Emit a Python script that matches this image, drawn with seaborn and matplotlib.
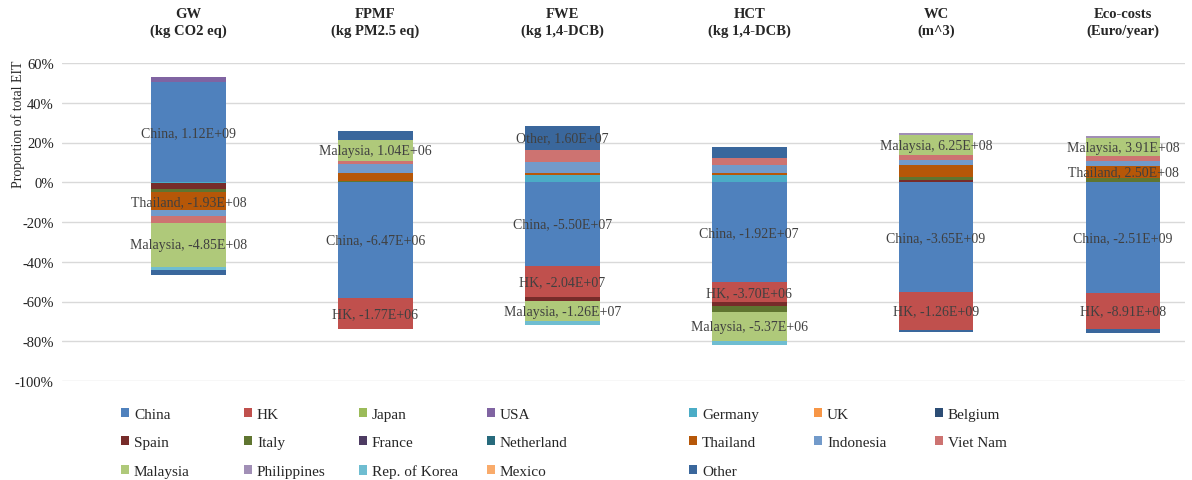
import numpy as np
import pandas as pd
import matplotlib
matplotlib.use("Agg")
import matplotlib.pyplot as plt
import seaborn as sns
from matplotlib.patches import Patch
from matplotlib.ticker import PercentFormatter

sns.set_style("white")
plt.rcParams['font.family'] = ['Liberation Serif', 'DejaVu Serif']
plt.rcParams['axes.unicode_minus'] = False

# impact categories (x axis, shown on top)
categories = ["GW\n(kg CO2 eq)", "FPMF\n(kg PM2.5 eq)", "FWE\n(kg 1,4-DCB)",
              "HCT\n(kg 1,4-DCB)", "WC\n(m^3)", "Eco-costs\n(Euro/year)"]

countries = ["China", "HK", "Japan", "USA", "Germany", "UK", "Belgium",
             "Spain", "Italy", "France", "Netherland", "Thailand", "Indonesia", "Viet Nam",
             "Malaysia", "Philippines", "Rep. of Korea", "Mexico", "Other"]

# proportion of total EIT (%) per country, one value per category
china = [50.2, -58.1, -42.2, -50.4, -55.3, -55.6]
hk = [0, -15.6, -15.5, -10.0, -18.8, -18.2]
japan = [0, 0, 0, 0, 0, 0]
usa = [3.0, 0, 0, 0, 0, 0]
germany = [-0.5, 0, 3.5, 3.7, 0, 0]
uk = [0, 0, 0, 0, 0, 0]
belgium = [0, 0, 0, 0, 0, 0]
spain = [-2.8, 0, -2.2, -1.7, 1.2, 0]
italy = [-1.7, 0.5, 0, -3.4, 1.2, 2.3]
france = [0, 0, 0, 0, 0, 0]
netherland = [0, 0, 0, 0, 0, 0]
thailand = [-9.2, 4.3, 1.0, 1.2, 6.2, 5.9]
indonesia = [-3.0, 4.2, 5.5, 3.7, 2.5, 2.5]
viet_nam = [-3.2, 1.7, 6.0, 3.4, 2.5, 2.5]
malaysia = [-22.3, 10.4, -10.0, -14.3, 10.0, 9.0]
philippines = [0, 0, 0, 0, 1.3, 1.3]
rep_korea = [-1.7, 0, -1.7, -2.2, 0, 0]
mexico = [0, 0, 0, 0, 0, 0]
other = [-2.2, 4.7, 12.5, 5.5, -1.0, -2.0]

colors = ["#4F81BD", "#C0504D", "#9BBB59", "#8064A2", "#4BACC6", "#F79646", "#2C4D75",
          "#772C2A", "#5F7530", "#4D3B62", "#276A7C", "#B65708", "#729ACA", "#CD7371",
          "#AFC97A", "#A18FB6", "#6FBDD1", "#F9AB6B", "#3A679C"]

# data labels: country, category index, text
label_country = ["China", "Thailand", "Malaysia",
                 "Malaysia", "China", "HK",
                 "Other", "China", "HK", "Malaysia",
                 "China", "HK", "Malaysia",
                 "Malaysia", "China", "HK",
                 "Malaysia", "Thailand", "China", "HK"]
label_cat = [0, 0, 0, 1, 1, 1, 2, 2, 2, 2, 3, 3, 3, 4, 4, 4, 5, 5, 5, 5]
label_text = ["China, 1.12E+09", "Thailand, -1.93E+08", "Malaysia, -4.85E+08",
              "Malaysia, 1.04E+06", "China, -6.47E+06", "HK, -1.77E+06",
              "Other, 1.60E+07", "China, -5.50E+07", "HK, -2.04E+07", "Malaysia, -1.26E+07",
              "China, -1.92E+07", "HK, -3.70E+06", "Malaysia, -5.37E+06",
              "Malaysia, 6.25E+08", "China, -3.65E+09", "HK, -1.26E+09",
              "Malaysia, 3.91E+08", "Thailand, 2.50E+08", "China, -2.51E+09", "HK, -8.91E+08"]

series = [china, hk, japan, usa, germany, uk, belgium, spain, italy, france, netherland,
          thailand, indonesia, viet_nam, malaysia, philippines, rep_korea, mexico, other]
vals = np.array(series, dtype=float)

# stack positives upward and negatives downward, Excel style
pos = np.clip(vals, 0, None).cumsum(axis=0)
neg = np.clip(vals, None, 0).cumsum(axis=0)
tops = np.where(vals > 0, pos, np.where(vals < 0, neg, 0.0))

fig = plt.figure(figsize=(11.92, 4.81), dpi=100)
ax = fig.add_axes([62 / 1192, 1 - 382 / 481, 1123 / 1192, 318 / 481])

for k in range(len(countries) - 1, -1, -1):
    df = pd.DataFrame({"cat": categories, "top": tops[k]})
    sns.barplot(data=df, x="cat", y="top", order=categories, color=colors[k],
                saturation=1, width=0.4, linewidth=0, errorbar=None, ax=ax)

for name, c, txt in zip(label_country, label_cat, label_text):
    k = countries.index(name)
    mid = tops[k, c] - vals[k, c] / 2
    ax.text(c, mid, txt, ha='center', va='center', fontsize=10, color='#404040')

ax.set_ylim(-100, 60)
ax.set_yticks(np.arange(-100, 61, 20))
ax.yaxis.set_major_formatter(PercentFormatter(decimals=0))
ax.set_xlim(-0.677, 5.332)
ax.yaxis.grid(True, color='#d9d9d9', linewidth=1)
ax.set_axisbelow(True)
for s in ax.spines.values():
    s.set_visible(False)

ax.xaxis.tick_top()
ax.set_xticks(range(len(categories)))
ax.set_xticklabels(categories, fontweight='bold', fontsize=10.5, linespacing=1.3)
ax.tick_params(axis='x', length=0, pad=19)
ax.tick_params(axis='y', length=0, pad=6, labelsize=10.5, labelcolor='#222222')
ax.set_xlabel("")
ax.set_ylabel("Proportion of total EIT", fontsize=10)
ax.yaxis.set_label_coords(-0.033, 0.81)

# legend: 7 columns filled row by row, one legend per column to match spacing
ncol = 7
col_x = [121, 244, 359, 487, 689, 814, 935]
rows = [countries[i:i + ncol] for i in range(0, len(countries), ncol)]
for c in range(ncol):
    names = [r[c] for r in rows if c < len(r)]
    handles = [Patch(facecolor=colors[countries.index(n)], edgecolor='none', label=n) for n in names]
    fig.legend(handles=handles, ncol=1, frameon=False, loc='upper left',
               bbox_to_anchor=(col_x[c] / 1192, 1 - 409 / 481), fontsize=11,
               handlelength=0.55, handleheight=0.55, handletextpad=0.3,
               labelspacing=1.0, borderaxespad=0, borderpad=0)

fig.savefig("out.png", dpi=100)
